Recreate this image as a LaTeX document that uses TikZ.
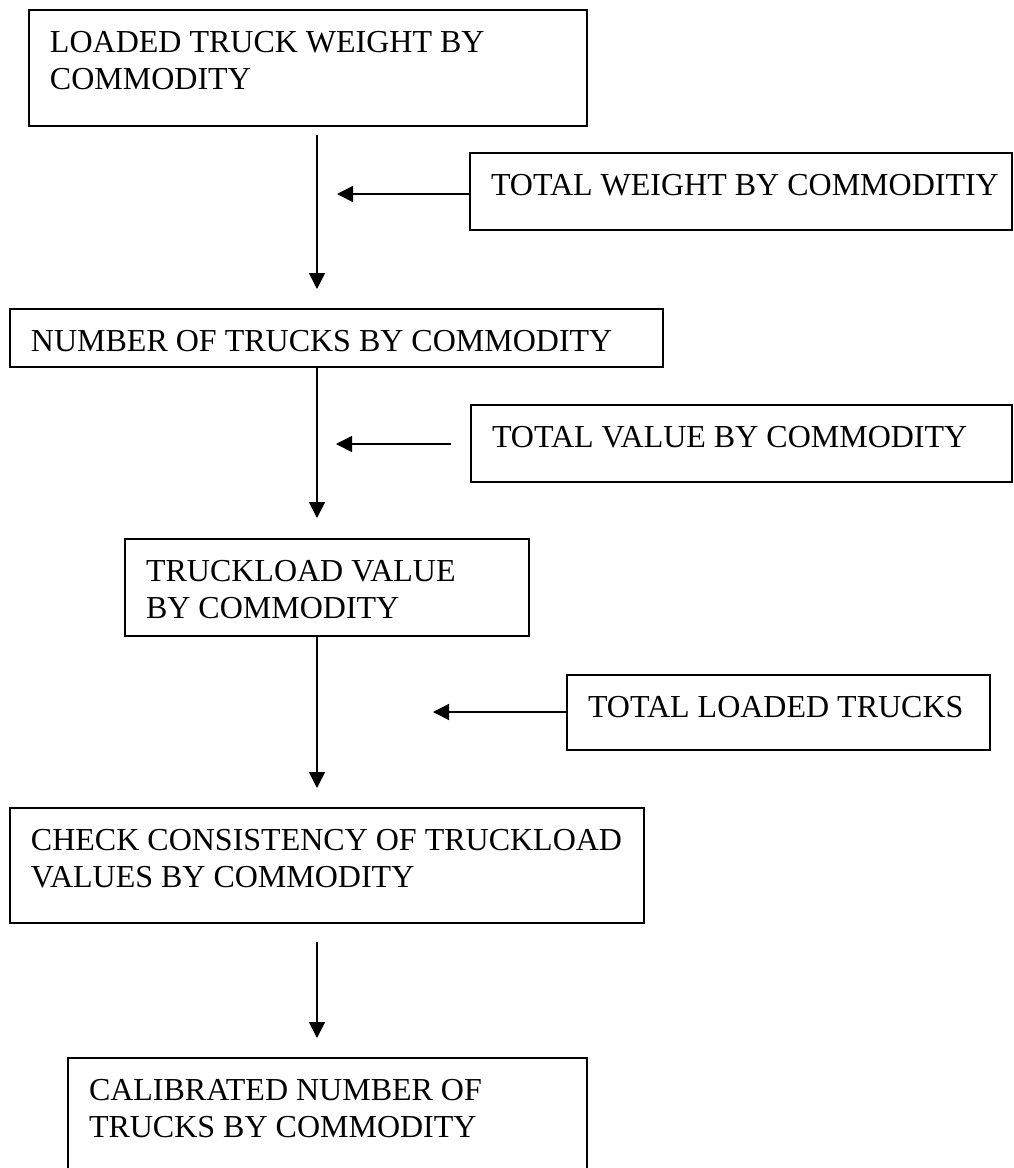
\documentclass[tikz,border=0pt]{standalone}
\usepackage{fontspec}
\setmainfont{Liberation Serif}
\usetikzlibrary{arrows.meta}

% Box content: width and height in px, text set top-left with a fixed first baseline
\newcommand\flowtext[3]{\parbox[c][\dimexpr #2pt*3/4\relax][t]{\dimexpr #1pt*3/4-31.5pt\relax}{%
  \fontsize{24pt}{27.75pt}\selectfont\rule{0pt}{31.5pt}#3}}

\tikzset{
  flowbox/.style={draw=black, line width=1.5pt, fill=white, rectangle,
    anchor=north west, inner xsep=15.75pt, inner ysep=0pt, outer sep=0pt},
  flow/.style={draw=black, line width=1.15pt,
    -{Triangle[length=12pt, width=12pt]}}
}

\begin{document}
\begin{tikzpicture}[x=0.75pt, y=-0.75pt]
  \fill[white] (0,0) rectangle (1014,1168);
  \useasboundingbox (0,0) rectangle (1014,1168);

  % main chain of boxes
  \node[flowbox] (b1) at (29,10)
    {\flowtext{558}{116}{\mbox{LOADED TRUCK WEIGHT BY}\\\mbox{COMMODITY}}};
  \node[flowbox] (b3) at (10,309)
    {\flowtext{653}{58}{\mbox{NUMBER OF TRUCKS BY COMMODITY}}};
  \node[flowbox] (b5) at (125,539)
    {\flowtext{404}{97}{\mbox{TRUCKLOAD VALUE}\\\mbox{BY COMMODITY}}};
  \node[flowbox] (b7) at (10,808)
    {\flowtext{634}{115}{\mbox{CHECK CONSISTENCY OF TRUCKLOAD}\\\mbox{VALUES BY COMMODITY}}};
  \node[flowbox] (b8) at (68,1058)
    {\flowtext{519}{140}{\mbox{CALIBRATED NUMBER OF}\\\mbox{TRUCKS BY COMMODITY}}};

  % side inputs
  \node[flowbox] (b2) at (470,153)
    {\flowtext{542}{77}{\mbox{TOTAL WEIGHT BY COMMODITIY}}};
  \node[flowbox] (b4) at (471,405)
    {\flowtext{541}{77}{\mbox{TOTAL VALUE BY COMMODITY}}};
  \node[flowbox] (b6) at (567,675)
    {\flowtext{423}{75}{\mbox{TOTAL LOADED TRUCKS}}};

  % vertical spine
  \coordinate (spine) at (317,0);
  \draw[flow, shorten <=6.75pt, shorten >=15pt] (b1.south -| spine) -- (b3.north -| spine);
  \draw[flow, shorten >=15.75pt] (b3.south -| spine) -- (b5.north -| spine);
  \draw[flow, shorten >=15pt] (b5.south -| spine) -- (b7.north -| spine);
  \draw[flow, shorten <=14.25pt, shorten >=15pt] (b7.south -| spine) -- (b8.north -| spine);

  % inputs feeding the spine
  \coordinate (in1) at (337,194);
  \coordinate (in2) at (336,444);
  \coordinate (in3) at (433,712);
  \draw[flow] (b2.west |- in1) -- (in1);
  \draw[flow, shorten <=15pt] (b4.west |- in2) -- (in2);
  \draw[flow] (b6.west |- in3) -- (in3);
\end{tikzpicture}
\end{document}
